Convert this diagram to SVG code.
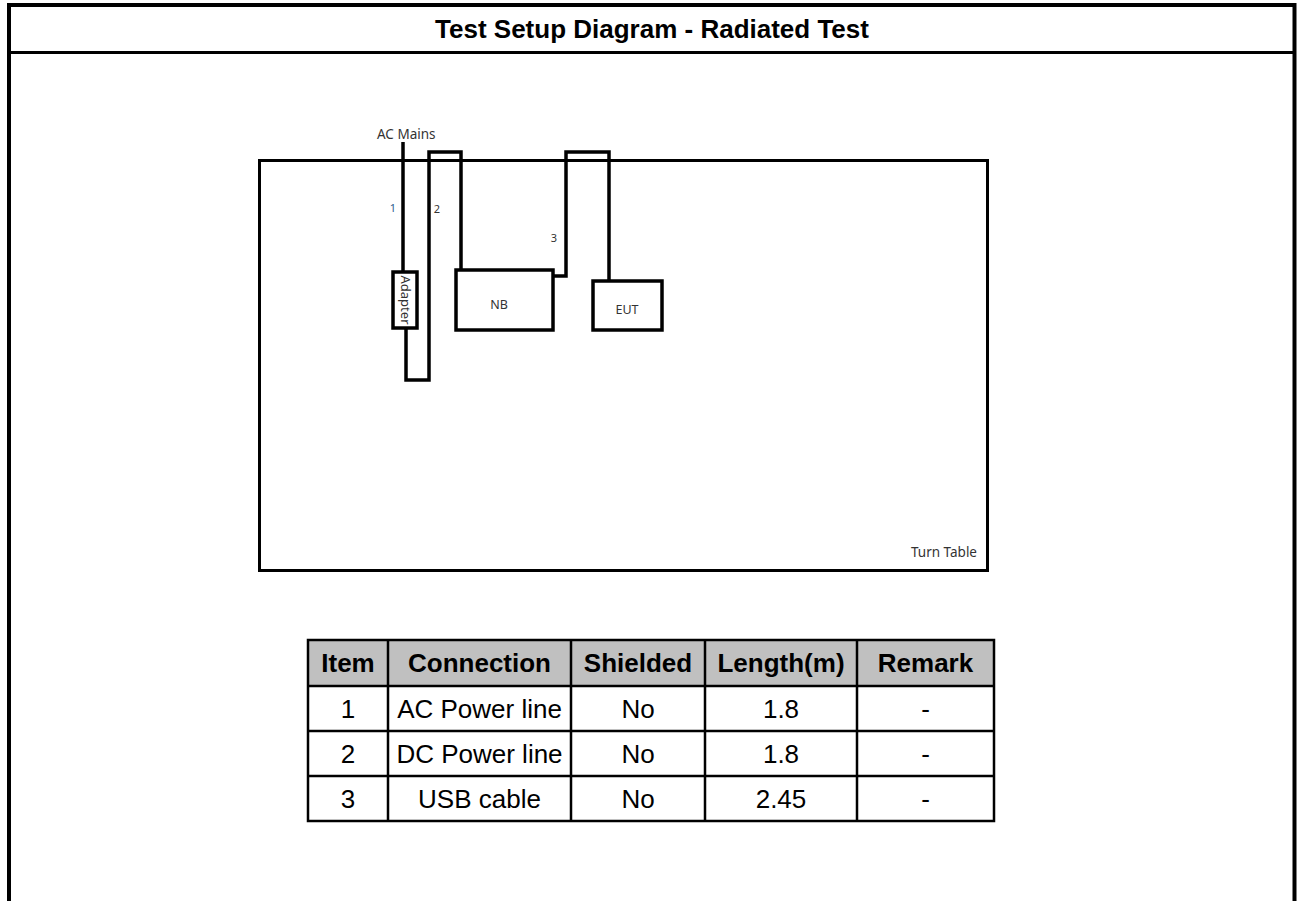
<svg xmlns="http://www.w3.org/2000/svg" width="1297" height="901" viewBox="0 0 1297 901">
<style>
.frame{fill:none;stroke:#000;stroke-width:4}
.box{fill:#fff;stroke:#000;stroke-width:3.5}
.cable{fill:none;stroke:#000;stroke-width:3.5;stroke-linejoin:miter}
.title{font-family:"Liberation Sans",Arial,sans-serif;font-weight:bold;font-size:26px;fill:#000;text-anchor:middle}
.lbl{font-family:"Noto Sans","Open Sans",sans-serif;font-size:13.5px;fill:#333}
.num{font-family:"Noto Sans","Open Sans",sans-serif;font-size:11px;fill:#333}
.th{font-family:"Liberation Sans",Arial,sans-serif;font-weight:bold;font-size:26px;fill:#000;text-anchor:middle}
.td{font-family:"Liberation Sans",Arial,sans-serif;font-size:26px;fill:#000;text-anchor:middle}
.grid{stroke:#000;stroke-width:2.5;fill:none}
</style>
<rect width="1297" height="901" fill="#fff"/>
<g id="frame">
<path class="frame" d="M9,901 V5 H1294.5 V901"/>
<line x1="9" y1="52.5" x2="1294.5" y2="52.5" stroke="#000" stroke-width="3"/>
<text class="title" x="652" y="38">Test Setup Diagram - Radiated Test</text>
</g>
<g id="turntable">
<rect x="259.5" y="160.5" width="728" height="410" fill="none" stroke="#000" stroke-width="3"/>
<text class="lbl" x="977" y="557" text-anchor="end">Turn Table</text>
</g>
<g id="connectors">
<path class="cable" d="M403,142 V272"/>
<path class="cable" d="M406,329 V380 H429 V152 H461 V270"/>
<path class="cable" d="M553,276 H566 V152 H609 V281"/>
</g>
<g id="ac-mains">
<text class="lbl" x="377" y="139">AC Mains</text>
</g>
<g id="adapter">
<rect class="box" x="393" y="272" width="24" height="56"/>
<text class="lbl" transform="translate(405,300) rotate(90)" x="0" y="4.5" text-anchor="middle" style="font-size:13px">Adapter</text>
</g>
<g id="nb">
<rect class="box" x="456" y="270" width="97" height="60"/>
<text class="lbl" x="499" y="309" text-anchor="middle" style="font-size:12.5px">NB</text>
</g>
<g id="eut">
<rect class="box" x="593" y="281" width="69" height="49"/>
<text class="lbl" x="627" y="314" text-anchor="middle" style="font-size:12.5px">EUT</text>
</g>
<g id="cable-labels">
<text class="num" x="393" y="212" text-anchor="middle" style="fill:#2E5E8E">1</text>
<text class="num" x="437" y="213" text-anchor="middle">2</text>
<text class="num" x="554" y="242" text-anchor="middle">3</text>
</g>
<g id="table">
<rect x="308" y="640" width="686" height="46" fill="#C0C0C0"/>
<path class="grid" d="M308,640 H994 V821 H308 Z M308,686 H994 M308,731 H994 M308,776 H994 M388,640 V821 M571,640 V821 M705,640 V821 M857,640 V821"/>
<text class="th" x="348" y="672">Item</text>
<text class="th" x="479.5" y="672">Connection</text>
<text class="th" x="638" y="672">Shielded</text>
<text class="th" x="781" y="672">Length(m)</text>
<text class="th" x="925.5" y="672">Remark</text>
<text class="td" x="348" y="718">1</text>
<text class="td" x="479.5" y="718">AC Power line</text>
<text class="td" x="638" y="718">No</text>
<text class="td" x="781" y="718">1.8</text>
<text class="td" x="925.5" y="718">-</text>
<text class="td" x="348" y="763">2</text>
<text class="td" x="479.5" y="763">DC Power line</text>
<text class="td" x="638" y="763">No</text>
<text class="td" x="781" y="763">1.8</text>
<text class="td" x="925.5" y="763">-</text>
<text class="td" x="348" y="808">3</text>
<text class="td" x="479.5" y="808">USB cable</text>
<text class="td" x="638" y="808">No</text>
<text class="td" x="781" y="808">2.45</text>
<text class="td" x="925.5" y="808">-</text>
</g>
</svg>
